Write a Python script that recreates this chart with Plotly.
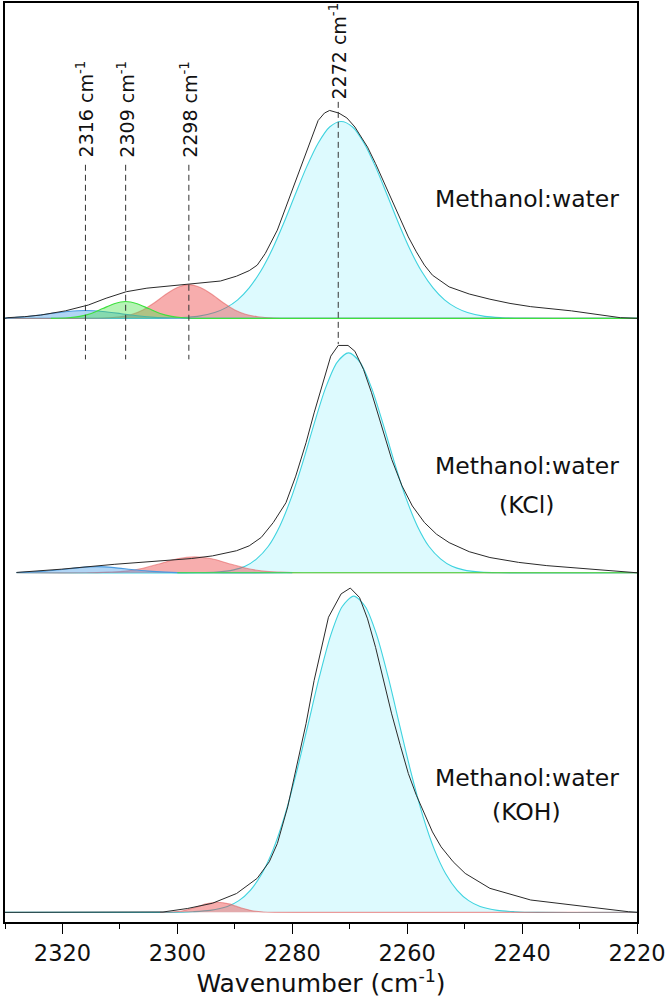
import plotly.graph_objects as go

# ---------------- DATA ----------------
# x axis: wavenumber (cm-1); y: normalized absorbance (a.u.)
x_ticks = [2320, 2300, 2280, 2260, 2240, 2220]
peak_labels = [2316, 2309, 2298, 2272]
sample_names = ["Methanol:water", "Methanol:water (KCl)", "Methanol:water (KOH)"]

# --- Methanol:water (experimental) ---
mw_wn = [2330, 2329.5, 2326.6, 2323.8, 2319.5, 2315.5, 2312.4, 2308.9, 2305.3, 2301.8, 2298.1, 2295.3,
         2292.5, 2289.7, 2287.5, 2286.1, 2284.7, 2282.6, 2281.1, 2279.7, 2278.3, 2276.9, 2275.5, 2274.4,
         2273.5, 2271.9, 2270.5, 2269.1, 2266.9, 2265.5, 2264.1, 2262.7, 2261.2, 2259.8, 2258.4, 2257.0,
         2255.6, 2254.1, 2252.7, 2249.2, 2245.6, 2242.1, 2238.5, 2231.4, 2225.7, 2222.9, 2220]
mw_abs = [0, .002, .005, .010, .023, .041, .062, .082, .093, .099, .105, .108,
          .115, .130, .147, .164, .200, .272, .344, .410, .482, .549, .610, .633,
          .641, .633, .618, .590, .528, .477, .421, .364, .302, .251, .205, .164,
          .133, .113, .097, .075, .059, .046, .036, .023, .010, .002, 0]

# fitted bands, Methanol:water
mw_b2272_wn = [2330, 2303.5, 2299.5, 2296.5, 2293.5, 2291.5, 2289.5, 2287.5, 2285.5, 2283.5, 2281.5,
               2279.5, 2277.5, 2275.5, 2273.5, 2271.5, 2269.5, 2267.5, 2265.5, 2263.5, 2261.5, 2259.5,
               2257.5, 2255.5, 2253.5, 2251.5, 2249.5, 2246.5, 2243.5, 2239.5, 2220]
mw_b2272 = [0, 0, .002, .006, .018, .033, .057, .094, .145, .212, .293,
            .381, .467, .540, .590, .607, .590, .540, .467, .381, .293, .212,
            .145, .094, .057, .033, .018, .006, .002, 0, 0]
mw_b2298_wn = [2330, 2316, 2313, 2310, 2308, 2306, 2304, 2302, 2300, 2298, 2296, 2294, 2292, 2290,
               2288, 2286, 2283, 2280, 2220]
mw_b2298 = [0, 0, .001, .005, .012, .026, .048, .074, .095, .104, .095, .074, .048, .026,
            .012, .005, .001, 0, 0]
mw_b2316_wn = [2330, 2328, 2325, 2322, 2319, 2316, 2313, 2310, 2307, 2304, 2301, 2298, 2220]
mw_b2316 = [.001, .003, .008, .015, .021, .024, .021, .015, .008, .003, .001, 0, 0]
mw_b2309_wn = [2322, 2319, 2317, 2315, 2313, 2311, 2309, 2307, 2305, 2303, 2301, 2299, 2296, 2220]
mw_b2309 = [0, .002, .006, .015, .030, .045, .052, .045, .030, .015, .006, .002, 0, 0]

# --- Methanol:water (KCl) ---
kcl_wn = [2328.0, 2320.2, 2311.0, 2302.5, 2297.5, 2293.9, 2289.7, 2287.5, 2285.4, 2283.3, 2281.1,
          2279.4, 2277.6, 2276.2, 2274.7, 2273.3, 2272.0, 2270.3, 2269.1, 2267.6, 2266.2, 2264.4,
          2262.7, 2260.9, 2259.1, 2257.0, 2254.9, 2252.7, 2249.2, 2245.6, 2240.6, 2235.7, 2230.0,
          2225.7, 2221.5, 2220]
kcl_abs = [.001, .011, .026, .037, .044, .052, .068, .083, .109, .155, .216,
           .298, .401, .493, .586, .668, .701, .701, .683, .627, .555, .452,
           .350, .268, .206, .155, .119, .093, .065, .047, .032, .022, .014,
           .007, .001, 0]

kcl_b2270_wn = [2328, 2296.2, 2293.2, 2290.2, 2288.2, 2286.2, 2284.2, 2282.2, 2280.2, 2278.2, 2276.2,
                2274.2, 2272.2, 2270.2, 2268.2, 2266.2, 2264.2, 2262.2, 2260.2, 2258.2, 2256.2,
                2254.2, 2252.2, 2250.2, 2247.2, 2244.2, 2220]
kcl_b2270 = [0, 0, .002, .009, .020, .043, .081, .143, .230, .339, .459,
             .570, .649, .678, .649, .570, .459, .339, .230, .143, .081,
             .043, .020, .009, .002, 0, 0]
kcl_b2297_wn = [2328, 2316, 2312, 2309, 2306, 2303, 2300, 2297, 2294, 2291, 2288, 2285, 2282, 2278, 2220]
kcl_b2297 = [0, 0, .002, .005, .014, .028, .043, .049, .043, .028, .014, .005, .002, 0, 0]
kcl_b2314_wn = [2328, 2326, 2323, 2320, 2317, 2314, 2311, 2308, 2305, 2302, 2298, 2280]
kcl_b2314 = [.001, .002, .005, .010, .016, .019, .016, .010, .005, .002, 0, 0]
kcl_b2309_wn = [2300, 2220]
kcl_b2309 = [0, 0]

# --- Methanol:water (KOH) ---
koh_wn = [2330, 2302.5, 2298.2, 2293.9, 2289.7, 2286.1, 2284.0, 2282.6, 2280.8, 2279.0, 2277.6,
          2276.2, 2274.7, 2273.7, 2271.5, 2269.9, 2268.3, 2266.9, 2265.5, 2264.1, 2262.7, 2261.2,
          2259.8, 2258.4, 2257.0, 2255.6, 2254.1, 2252.0, 2249.9, 2245.6, 2238.5, 2230.0, 2221.5, 2220]
koh_abs = [0, .001, .012, .028, .058, .105, .156, .212, .325, .469, .582,
           .715, .838, .910, .982, 1.000, .971, .905, .817, .715, .612, .515,
           .428, .361, .305, .248, .202, .156, .120, .074, .038, .019, .002, 0]

koh_b2269_wn = [2330, 2301.3, 2297.3, 2294.3, 2291.3, 2289.3, 2287.3, 2285.3, 2283.3, 2281.3, 2279.3,
                2277.3, 2275.3, 2273.3, 2271.3, 2269.3, 2267.3, 2265.3, 2263.3, 2261.3, 2259.3,
                2257.3, 2255.3, 2253.3, 2251.3, 2249.3, 2247.3, 2244.3, 2241.3, 2237.3, 2220]
koh_b2269 = [0, 0, .002, .006, .018, .036, .068, .119, .195, .299, .429,
             .576, .725, .855, .943, .975, .943, .855, .725, .576, .429,
             .299, .195, .119, .068, .036, .018, .006, .002, 0, 0]
koh_b2293_wn = [2303, 2301, 2299, 2297, 2295, 2293, 2291, 2289, 2287, 2285, 2283, 2220]
koh_b2293 = [0, .001, .005, .014, .026, .031, .026, .014, .005, .001, 0, 0]

# ---------------- STYLE / LAYOUT CONSTANTS ----------------
FONT = "DejaVu Sans"
PX_PER_UNIT = 325.0
Y_MAX = 921 / PX_PER_UNIT
OFFSETS = [1.8615, 1.0769, 0.0298]   # vertical stacking of the three spectra

CYAN = dict(fill="rgba(120,235,250,0.25)", line="#3fd3df")
RED = dict(fill="rgba(235,60,60,0.42)", line="rgba(225,90,90,0.55)")
GREEN = dict(fill="rgba(70,225,70,0.40)", line="#3ee03e")
BLUE = dict(fill="rgba(60,150,230,0.40)", line="#4a9be0")

panels = [
    dict(off=OFFSETS[0], exp=(mw_wn, mw_abs),
         bands=[(mw_b2272_wn, mw_b2272, CYAN), (mw_b2298_wn, mw_b2298, RED),
                (mw_b2316_wn, mw_b2316, BLUE), (mw_b2309_wn, mw_b2309, GREEN)]),
    dict(off=OFFSETS[1], exp=(kcl_wn, kcl_abs),
         bands=[(kcl_b2270_wn, kcl_b2270, CYAN), (kcl_b2297_wn, kcl_b2297, RED),
                (kcl_b2314_wn, kcl_b2314, BLUE), (kcl_b2309_wn, kcl_b2309, GREEN)]),
    dict(off=OFFSETS[2], exp=(koh_wn, koh_abs),
         bands=[(koh_b2269_wn, koh_b2269, CYAN), (koh_b2293_wn, koh_b2293, RED)]),
]

fig = go.Figure()

for p in panels:
    off = p["off"]
    for wn, vals, col in p["bands"]:
        fig.add_trace(go.Scatter(
            x=wn, y=[off + v for v in vals], mode="lines",
            line=dict(color=col["line"], width=1.1, shape="spline", smoothing=0.8),
            fill="toself", fillcolor=col["fill"], hoverinfo="skip"))
    wn, ab = p["exp"]
    fig.add_trace(go.Scatter(
        x=wn, y=[off + v for v in ab], mode="lines",
        line=dict(color="#2a2a2a", width=1.0), hoverinfo="skip"))

# dashed marker lines (y extents in axis units)
dash_spans = {2316: (2.335, 1.735), 2309: (2.335, 1.735), 2298: (2.335, 1.735), 2272: (2.529, 1.782)}
label_y = {2316: 2.507, 2309: 2.507, 2298: 2.507, 2272: 2.685}
for pk in peak_labels:
    y0, y1 = dash_spans[pk]
    fig.add_trace(go.Scatter(
        x=[pk, pk], y=[y0, y1], mode="lines",
        line=dict(color="#333333", width=1, dash="6px,4px"), hoverinfo="skip"))
    fig.add_annotation(
        x=pk, y=label_y[pk], xref="x", yref="y",
        text=f"{pk} cm<sup>-1</sup>", textangle=-90, showarrow=False,
        xanchor="center", yanchor="middle",
        font=dict(family=FONT, size=19, color="#111111"))

# sample name labels
name_pos = [
    ("Methanol:water", 2.229),
    ("Methanol:water", 1.406), ("(KCl)", 1.286),
    ("Methanol:water", 0.443), ("(KOH)", 0.338),
]
for txt, yy in name_pos:
    fig.add_annotation(
        x=2239.2, y=yy, xref="x", yref="y", text=txt, showarrow=False,
        xanchor="center", yanchor="middle",
        font=dict(family=FONT, size=23.5, color="#111111"))

fig.update_layout(
    width=667, height=1004,
    margin=dict(l=5, r=30, t=1, b=82),
    paper_bgcolor="white", plot_bgcolor="white",
    showlegend=False,
    xaxis=dict(
        range=[2330, 2220], tickmode="linear", tick0=2220, dtick=20,
        ticks="outside", ticklen=10, tickwidth=1.3, tickcolor="black",
        minor=dict(dtick=10, tick0=2220, ticks="outside", ticklen=5, tickwidth=1.3,
                   tickcolor="black", showgrid=False),
        showline=True, mirror=True, linecolor="black", linewidth=1.5,
        showgrid=False, zeroline=False,
        tickfont=dict(family=FONT, size=22.5, color="#111111"),
        title=dict(text="Wavenumber (cm<sup>-1</sup>)", standoff=7,
                   font=dict(family=FONT, size=25, color="#111111")),
    ),
    yaxis=dict(
        range=[0, Y_MAX], showticklabels=False, ticks="",
        showline=True, mirror=True, linecolor="black", linewidth=1.5,
        showgrid=False, zeroline=False,
    ),
)

fig.write_html("out.html")
